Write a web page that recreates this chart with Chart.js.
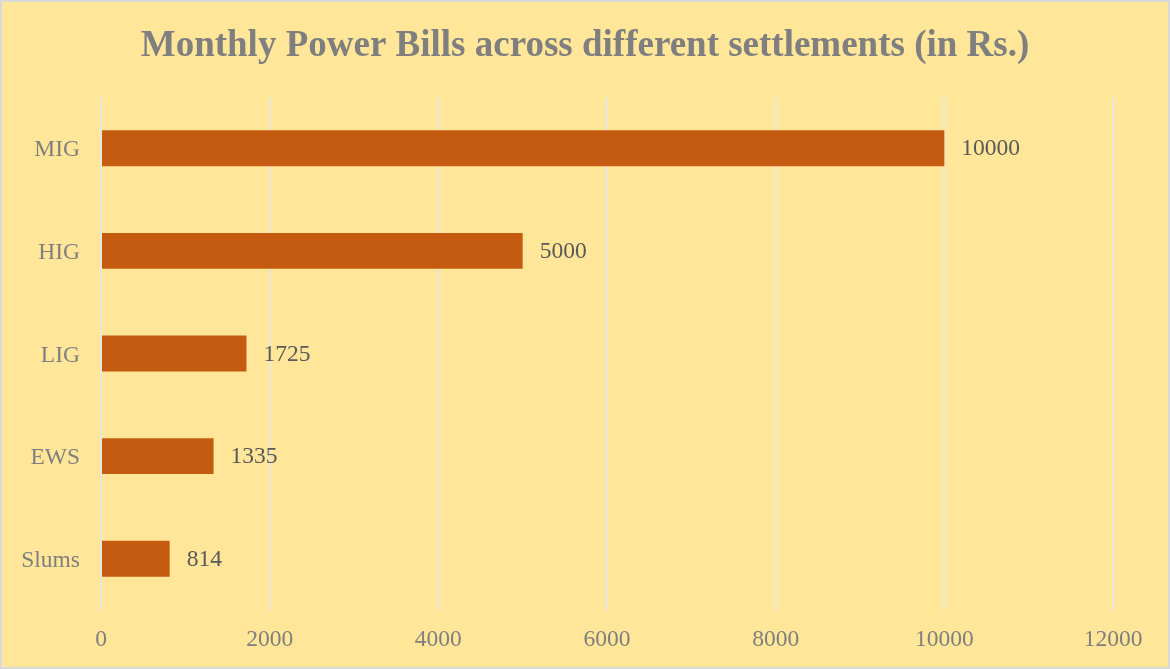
<!DOCTYPE html>
<html>
<head>
<meta charset="utf-8">
<title>Monthly Power Bills</title>
<script src="https://cdn.jsdelivr.net/npm/chart.js@4.4.0/dist/chart.umd.min.js"></script>
<style>
  html, body { margin: 0; padding: 0; background: #FFE699; }
  canvas { display: block; }
</style>
</head>
<body>
<canvas id="bills-chart" width="1170" height="669"></canvas>
<script>
const chartTitle = 'Monthly Power Bills across different settlements (in Rs.)';
const settlements = ['MIG', 'HIG', 'LIG', 'EWS', 'Slums'];
const monthlyBills = [10000, 5000, 1725, 1335, 814];
const axisTicks = [0, 2000, 4000, 6000, 8000, 10000, 12000];

const serif = '"Liberation Serif", "Times New Roman", serif';

// paints the yellow panel, the thin grey frame and the heading
const panel = {
    id: 'panel',
    beforeDraw(chart) {
        const ctx = chart.ctx;
        ctx.save();
        ctx.fillStyle = '#FFE699';
        ctx.fillRect(0, 0, chart.width, chart.height);
        ctx.strokeStyle = '#d9d9d9';
        ctx.lineWidth = 2;
        ctx.strokeRect(1, 1, chart.width - 2, chart.height - 2);

        ctx.font = 'bold 37px ' + serif;
        ctx.fillStyle = '#7f7f7f';
        ctx.textAlign = 'center';
        ctx.textBaseline = 'middle';
        ctx.fillText(chartTitle, chart.width / 2, 46);
        ctx.restore();
    }
};

// value printed just past the end of each bar
const valueLabels = {
    id: 'valueLabels',
    afterDatasetsDraw(chart) {
        const ctx = chart.ctx;
        const meta = chart.getDatasetMeta(0);
        ctx.save();
        ctx.font = '23.5px ' + serif;
        ctx.fillStyle = '#595959';
        ctx.textAlign = 'left';
        ctx.textBaseline = 'middle';
        meta.data.forEach((bar, i) => {
            ctx.fillText(String(monthlyBills[i]), bar.x + 17, bar.y + 1);
        });
        ctx.restore();
    }
};

new Chart(document.querySelector('#bills-chart').getContext('2d'), {
    type: 'bar',
    data: {
        labels: settlements,
        datasets: [{
            data: monthlyBills,
            backgroundColor: '#C55A11',
            borderWidth: 0,
            barPercentage: 0.35,
            categoryPercentage: 1
        }]
    },
    options: {
        indexAxis: 'y',
        responsive: false,
        animation: false,
        layout: { padding: { left: 0, right: 57, top: 97, bottom: 0 } },
        plugins: {
            legend: { display: false },
            tooltip: { enabled: false },
            title: { display: false }
        },
        scales: {
            x: {
                min: 0,
                max: 12000,
                afterBuildTicks(scale) {
                    scale.ticks = axisTicks.map(v => ({ value: v }));
                },
                afterFit(scale) { scale.height = 59; },
                grid: { color: '#e9e6dc', lineWidth: 2, drawTicks: false },
                border: { display: false },
                ticks: {
                    color: '#7f7f7f',
                    font: { family: serif, size: 23.5 },
                    padding: 16,
                    callback: value => String(value)
                }
            },
            y: {
                afterFit(scale) { scale.width = 101; },
                grid: { display: false, drawTicks: false },
                border: { display: false },
                ticks: {
                    color: '#7f7f7f',
                    font: { family: serif, size: 23.5 },
                    padding: 21,
                    labelOffset: 2
                }
            }
        }
    },
    plugins: [panel, valueLabels]
});
</script>
</body>
</html>
